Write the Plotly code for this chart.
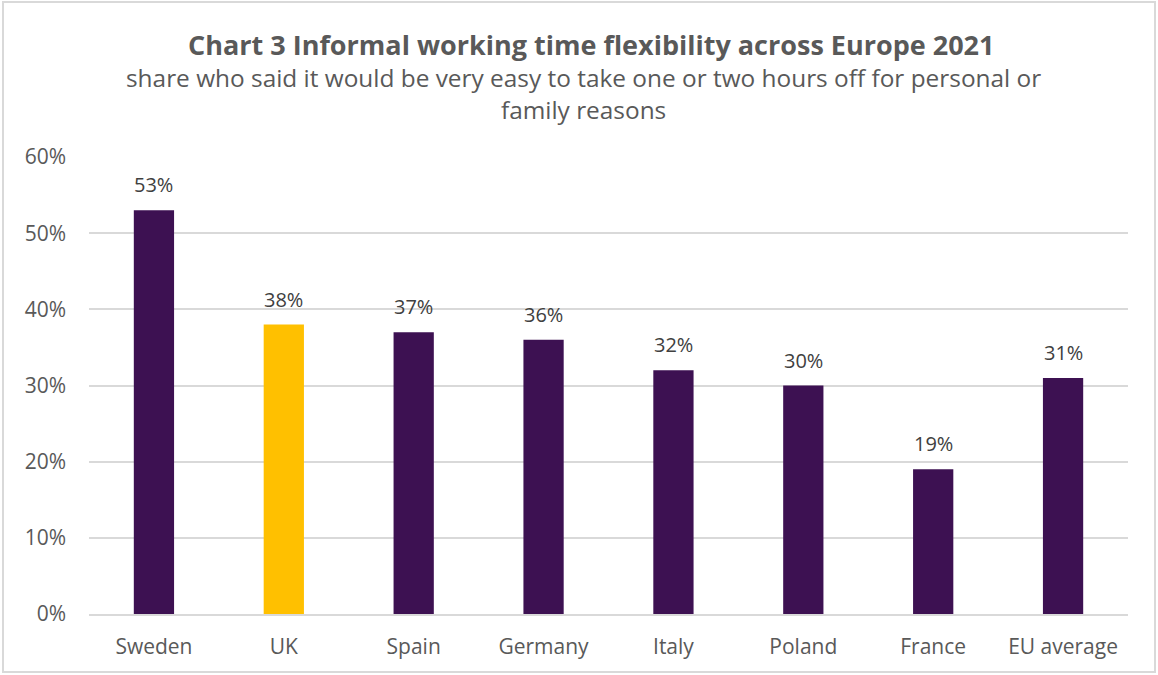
import plotly.graph_objects as go

countries = ["Sweden", "UK", "Spain", "Germany", "Italy", "Poland", "France", "EU average"]
share = [0.53, 0.38, 0.37, 0.36, 0.32, 0.30, 0.19, 0.31]
highlight = "UK"
tick_vals = [0, 0.1, 0.2, 0.3, 0.4, 0.5, 0.6]
tick_text = ["0%", "10%", "20%", "30%", "40%", "50%", "60%"]

PURPLE = "#3D1152"
GOLD = "#FFC000"
colors = [GOLD if c == highlight else PURPLE for c in countries]
FONT = "Open Sans"

W, H = 1158, 675
ML, MR, MT, MB = 89, 30, 157, 61
PW, PH = W - ML - MR, H - MT - MB


def px_to_xpaper(px):
    return (px - ML) / PW


fig = go.Figure(
    go.Bar(
        x=countries,
        y=share,
        marker=dict(color=colors, line=dict(width=0)),
        width=0.31,
        hoverinfo="x+y",
    )
)

# value labels above each bar
labels = [
    dict(x=c, y=v, xref="x", yref="y", text=f"{v:.0%}", showarrow=False,
         yanchor="bottom", yshift=10,
         font=dict(family=FONT, size=20, color="#404040"))
    for c, v in zip(countries, share)
]

titles = [
    dict(text="<b>Chart 3 Informal working time flexibility across Europe 2021</b>",
         xref="paper", yref="paper", x=px_to_xpaper(591), y=1, yshift=113, showarrow=False,
         font=dict(family=FONT, size=27, color="#595959"), yanchor="middle"),
    dict(text="share who said it would be very easy to take one or two hours off for personal or<br>family reasons",
         xref="paper", yref="paper", x=px_to_xpaper(583), y=1, yshift=64, showarrow=False,
         font=dict(family=FONT, size=24.4, color="#595959"), yanchor="middle",
         align="center"),
]

# light frame around the whole chart
frame = dict(
    type="rect", xref="paper", yref="paper",
    x0=px_to_xpaper(3), x1=px_to_xpaper(1155),
    y0=(MT + PH - 672) / PH, y1=(MT + PH - 2) / PH,
    line=dict(color="#D9D9D9", width=2), layer="below",
)

fig.update_layout(
    width=W,
    height=H,
    margin=dict(l=ML, r=MR, t=MT, b=MB),
    paper_bgcolor="white",
    plot_bgcolor="white",
    showlegend=False,
    font=dict(family=FONT, color="#595959"),
    xaxis=dict(
        showgrid=False,
        showline=True,
        linecolor="#D9D9D9",
        linewidth=2,
        tickfont=dict(family=FONT, size=21, color="#595959"),
        ticks="",
        ticklabelstandoff=13,
    ),
    yaxis=dict(
        range=[0, 0.6],
        tickvals=tick_vals,
        ticktext=tick_text,
        showgrid=True,
        gridcolor="#D9D9D9",
        gridwidth=2,
        zeroline=False,
        showline=False,
        ticks="",
        tickfont=dict(family=FONT, size=21, color="#595959"),
        ticklabelstandoff=22,
    ),
    shapes=[frame],
    annotations=titles + labels,
)

fig.write_html("out.html")
